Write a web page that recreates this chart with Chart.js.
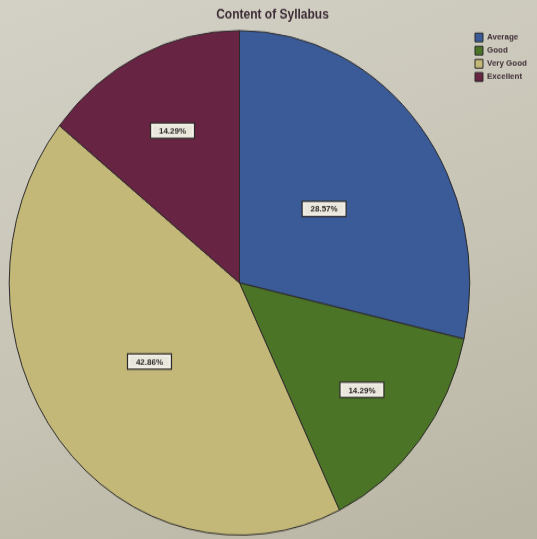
<!DOCTYPE html>
<html>
<head>
<meta charset="utf-8">
<script src="https://cdn.jsdelivr.net/npm/chart.js@4.4.0/dist/chart.umd.min.js"></script>
<style>
  html, body { margin: 0; padding: 0; overflow: hidden; }
  body {
    width: 537px; height: 539px;
    background: linear-gradient(160deg, #d3d1c6 0%, #c7c4b5 55%, #b9b5a4 100%);
  }
  #wrap { transform: scaleY(1.0955); transform-origin: 0 0; }
</style>
</head>
<body>
<div id="wrap"><canvas id="chartSyllabus" width="537" height="492"></canvas></div>
<script>
// datos del grafico
const categorias = ["Average", "Good", "Very Good", "Excellent"];
const porcentajes = [28.57, 14.29, 42.86, 14.29];
const colores = ["#3a5a98", "#4c7426", "#c4b878", "#682443"];

// distancia de la etiqueta al centro (fraccion del radio)
const posEtiqueta = [0.47, 0.68, 0.5, 0.67];

const etiquetasPlugin = {
  id: "etiquetas",
  afterDatasetsDraw(chart) {
    const ctx = chart.ctx;
    const meta = chart.getDatasetMeta(0);
    ctx.save();
    ctx.font = "bold 8px 'Liberation Sans', Arial, sans-serif";
    ctx.textAlign = "center";
    ctx.textBaseline = "middle";
    meta.data.forEach((arc, i) => {
      const mid = (arc.startAngle + arc.endAngle) / 2;
      const r = arc.outerRadius * posEtiqueta[i];
      const x = arc.x + Math.cos(mid) * r;
      const y = arc.y + Math.sin(mid) * r;
      const texto = porcentajes[i].toFixed(2) + "%";
      const w = 44, h = 14;
      ctx.fillStyle = "#e9e6dc";
      ctx.fillRect(x - w / 2, y - h / 2, w, h);
      ctx.strokeStyle = "#2d2a2a";
      ctx.lineWidth = 1.2;
      ctx.strokeRect(x - w / 2, y - h / 2, w, h);
      ctx.strokeStyle = "#f4f2ec";
      ctx.lineWidth = 1;
      ctx.strokeRect(x - w / 2 + 2, y - h / 2 + 2, w - 4, h - 4);
      ctx.fillStyle = "#2a2626";
      ctx.fillText(texto, x, y + 0.5);
    });
    ctx.restore();
  }
};

new Chart(document.getElementById("chartSyllabus"), {
  type: "pie",
  data: {
    labels: categorias,
    datasets: [{
      data: porcentajes,
      backgroundColor: colores,
      borderColor: "#2b2a2a",
      borderWidth: 1
    }]
  },
  options: {
    responsive: false,
    devicePixelRatio: 1,
    animation: false,
    layout: {
      padding: { left: 8, right: 0, top: 0, bottom: 3 }
    },
    plugins: {
      title: {
        display: true,
        text: "Content of Syllabus",
        color: "#3e2c36",
        font: { family: "'Liberation Sans', Arial, sans-serif", size: 12, weight: "bold" },
        padding: { top: 6, bottom: 7 }
      },
      legend: {
        position: "right",
        align: "start",
        title: {
          display: true,
          text: " ",
          padding: { top: 19, bottom: 0 },
          font: { size: 6 }
        },
        labels: {
          boxWidth: 8,
          boxHeight: 8,
          padding: 4,
          color: "#3e2c36",
          font: { family: "'Liberation Sans', Arial, sans-serif", size: 8, weight: "bold" }
        }
      },
      tooltip: { enabled: false }
    }
  },
  plugins: [etiquetasPlugin]
});
</script>
</body>
</html>
